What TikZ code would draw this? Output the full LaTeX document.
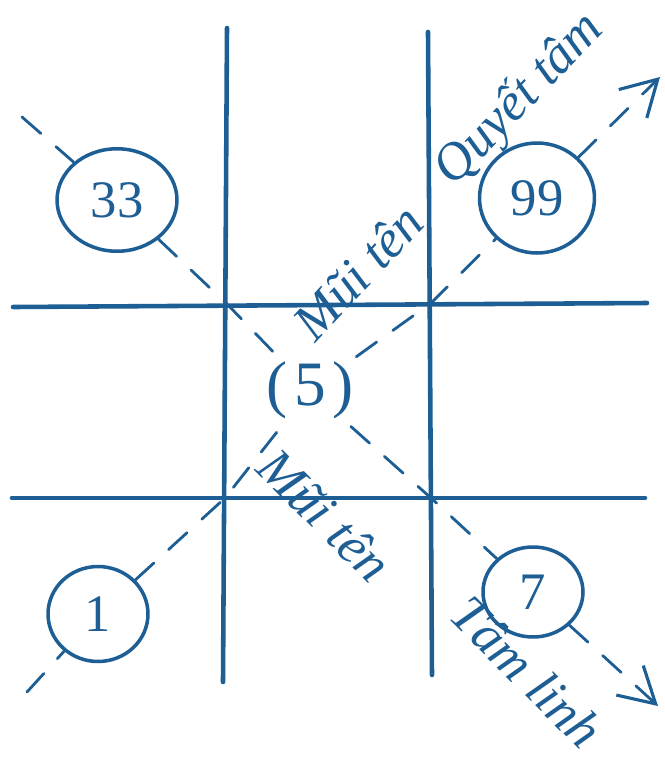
\documentclass[tikz,border=0pt]{standalone}
\usepackage{fontspec}
\setmainfont{Liberation Serif}
\usetikzlibrary{positioning,arrows.meta,shapes.geometric}
\definecolor{InkBlue}{HTML}{1D5E94}

\begin{document}
\begin{tikzpicture}[
  x=0.02cm, y=-0.02cm,
  grid/.style={draw=InkBlue, line width=2.6pt, line cap=round},
  diag/.style={draw=InkBlue, line width=1.6pt, dash pattern=on 5mm off 4mm, line cap=round},
  tipped/.style={diag, -{Straight Barb[length=7mm, width=8mm, line width=1.8pt]}},
  num/.style={ellipse, draw=InkBlue, line width=2pt, text=InkBlue, font=\fontsize{30}{30}\selectfont, inner sep=0pt},
  mid/.style={ellipse, text=InkBlue, font=\fontsize{36}{36}\selectfont, inner sep=2pt},
  lbl/.style={text=InkBlue, font=\fontsize{30}{30}\selectfont\itshape, inner sep=0pt}
]
\useasboundingbox (0,0) rectangle (665,762);

% the grid
\coordinate (vLt) at (227,28);  \coordinate (vLb) at (223,682);
\coordinate (vRt) at (428,32);  \coordinate (vRb) at (432,675);
\coordinate (hTl) at (13,307);  \coordinate (hTr) at (647,303);
\coordinate (hBl) at (12,498);  \coordinate (hBr) at (645,498);
\draw[grid] (vLt) -- (vLb);
\draw[grid] (vRt) -- (vRb);
\draw[grid] (hTl) -- (hTr);
\draw[grid] (hBl) -- (hBr);

% numbers
\node[num, minimum width=2.4cm, minimum height=2.05cm]  (n33) at (117,200) {33};
\node[num, minimum width=2.3cm, minimum height=2.2cm]   (n99) at (537,198) {99};
\node[num, minimum width=2.0cm, minimum height=1.9cm]   (n1)  at (98,614)  {1};
\node[num, minimum width=2.0cm, minimum height=1.8cm]   (n7)  at (533,592) {7};
\node[mid] (n5) at (310,390) {(\hspace{4pt}5\hspace{4pt})};

% the two arrows
\coordinate (s1) at (22,117);  \coordinate (t1) at (658,706);
\coordinate (s2) at (27,692);  \coordinate (t2) at (660,77);
\coordinate (cTL) at (228,305); \coordinate (cBR) at (431,498);
\coordinate (cBL) at (225,498); \coordinate (cTR) at (431,303);

\draw[diag] (s1) -- (n33);
\draw[diag] (n33) -- (cTL) -- (n5);
\draw[diag] (n5) -- (cBR) -- (n7);
\draw[tipped] (n7) -- (t1);

\draw[diag] (s2) -- (n1);
\draw[diag] (n1) -- (cBL) -- (n5);
\draw[diag] (n5) -- (cTR) -- (n99);
\draw[tipped] (n99) -- (t2);

% labels
\node[lbl, rotate=47]  (up1) at (358,272) {Mũi tên};
\node[lbl, rotate=46]  (up2) at (520,100) {Quyết tâm};
\node[lbl, rotate=-45] (lo1) at (325,515) {Mũi tên};
\node[lbl, rotate=-45] (lo2) at (527,672) {Tâm linh};
\end{tikzpicture}
\end{document}
